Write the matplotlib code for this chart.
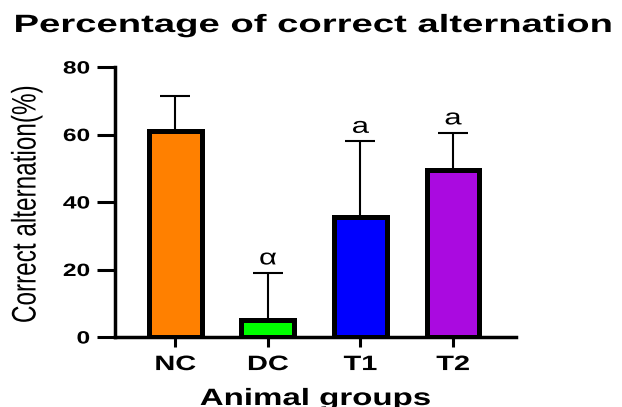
import numpy as np
import matplotlib.pyplot as plt
from matplotlib.patheffects import AbstractPathEffect
from matplotlib.transforms import Affine2D

# group means and upper SD for the alternation test
groups = ['NC', 'DC', 'T1', 'T2']
means = [61, 5, 35.5, 49.5]
sd = [10.5, 14, 22.5, 11]
colors = ['#FF8000', '#00FF00', '#0000FF', '#AA0AE0']
marks = ['', 'α', 'a', 'a']


class StretchX(AbstractPathEffect):
    """Widen glyphs horizontally (in display space) about a fixed anchor."""

    def __init__(self, sx, anchor='center'):
        super().__init__()
        self.sx = sx
        self.anchor = anchor

    def draw_path(self, renderer, gc, tpath, affine, rgbFace=None):
        if len(tpath.vertices) == 0:
            return
        pts = affine.transform(tpath.vertices)
        x0, x1 = pts[:, 0].min(), pts[:, 0].max()
        cx = {'left': x0, 'right': x1}.get(self.anchor, (x0 + x1) / 2)
        st = Affine2D().translate(-cx, 0).scale(self.sx, 1).translate(cx, 0)
        renderer.draw_path(gc, tpath, affine + st, rgbFace)


plt.rcParams['font.family'] = ['Liberation Sans', 'DejaVu Sans']

fig = plt.figure(figsize=(6.22, 4.07), dpi=100)
ax = fig.add_axes([115/622, 70/407, 401/622, 270/407])

x = np.arange(len(groups))
ax.errorbar(x, means, yerr=[np.zeros(len(sd)), sd], fmt='none', ecolor='black',
            elinewidth=1.5, capsize=11, capthick=1.5, zorder=1)
ax.bar(x, means, width=0.57, color=colors, edgecolor='black', linewidth=3.6, zorder=2)

for xi, m, s, t in zip(x, means, sd, marks):
    if t:
        ax.text(xi, m + s + 2.5, t, ha='center', va='baseline', fontsize=16,
                path_effects=[StretchX(1.4)])

ax.set_xlim(-0.65, 3.68)
ax.set_ylim(0, 80)
ax.set_yticks([0, 20, 40, 60, 80])
ax.set_xticks(x)
ax.set_xticklabels(groups)

for side in ['top', 'right']:
    ax.spines[side].set_visible(False)
for side in ['left', 'bottom']:
    ax.spines[side].set_linewidth(2.5)

ax.tick_params(axis='y', length=13, width=2.2, labelsize=12.8, pad=5)
ax.tick_params(axis='x', length=7, width=2.2, labelsize=15, pad=6)
for lab in ax.get_yticklabels():
    lab.set_fontweight('bold')
    lab.set_path_effects([StretchX(1.38, 'right')])
for lab in ax.get_xticklabels():
    lab.set_fontweight('bold')
    lab.set_path_effects([StretchX(1.39)])

ax.set_xlabel('Animal groups', fontsize=17, fontweight='bold', va='baseline',
              path_effects=[StretchX(1.4)])
ax.xaxis.set_label_coords(0.5, -68/270)
ax.set_ylabel('Correct alternation(%)', fontsize=17.5, va='center',
              path_effects=[StretchX(1.4)])
ax.yaxis.set_label_coords(-88/401, 0.49)

fig.text(313/622, (407 - 32)/407, 'Percentage of correct alternation',
         ha='center', va='baseline', fontsize=18, fontweight='bold',
         path_effects=[StretchX(1.53)])

fig.savefig('out.png', dpi=100)
